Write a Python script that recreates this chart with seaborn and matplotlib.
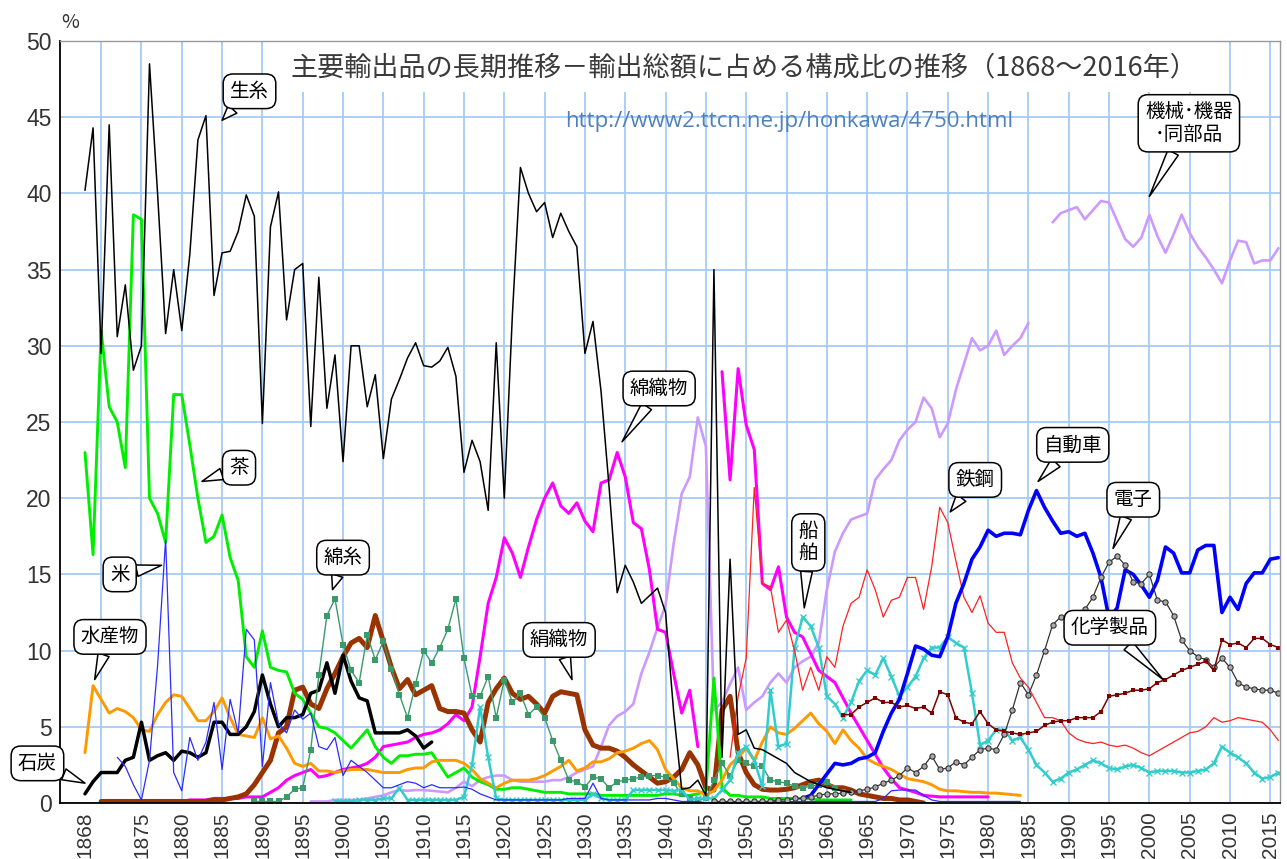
import matplotlib
matplotlib.use("Agg")
import matplotlib.pyplot as plt
from matplotlib.patches import Rectangle
import numpy as np
import seaborn as sns

# ---- data: share of total exports (%) ----
# each series: first year + one value per year (None = no data)
raw_silk_start = 1868
raw_silk = [40.2, 44.3, 29.5, 44.5, 30.6, 34.0, 28.4, 30.0, 48.5, 40.0,
            30.8, 35.0, 31.0, 36.0, 43.5, 45.1, 33.3, 36.1, 36.2, 37.5,
            39.9, 38.5, 24.9, 37.8, 40.1, 31.7, 35.0, 35.4, 24.7, 34.5,
            25.9, 29.4, 22.4, 30.0, 30.0, 26.0, 28.1, 22.6, 26.5, 27.8,
            29.2, 30.2, 28.7, 28.6, 29.0, 29.9, 28.0, 21.7, 23.8, 22.4,
            19.2, 30.2, 20.0, 32.0, 41.7, 40.0, 38.8, 39.4, 37.1, 38.7,
            37.5, 36.5, 29.5, 31.6, 27.0, 20.7, 13.8, 15.6, 14.5, 13.1,
            13.6, 14.1, 12.5, 6.0, 0.9, 1.0, 1.5, 0.5, 35.0, 3.0,
            16.0, 4.5, 4.8, 3.6, 3.5, 3.2, 2.9, 2.6, 2.0, 1.7,
            1.4, 1.2, 1.0, 0.9, 0.8, 0.7]

tea_start = 1868
tea = [23.0, 16.3, 31.0, 26.0, 25.0, 22.0, 38.6, 38.3, 20.0, 19.0,
       17.1, 26.8, 26.8, 23.5, 20.0, 17.1, 17.5, 18.9, 16.1, 14.6,
       9.6, 8.9, 11.3, 8.9, 8.7, 8.6, 7.2, 6.8, 5.9, 5.0,
       4.9, 4.6, 4.1, 3.6, 4.2, 4.8, 3.7, 3.0, 2.6, 3.1,
       3.1, 3.2, 3.2, 3.3, 2.5, 1.7, 2.0, 2.3, 1.7, 1.4,
       1.2, 0.9, 0.9, 1.0, 1.0, 0.9, 0.8, 0.7, 0.7, 0.7,
       0.6, 0.6, 0.6, 0.6, 0.5, 0.5, 0.5, 0.5, 0.5, 0.5,
       0.5, 0.5, 0.6, 0.6, 0.5, 0.5, 0.6, 0.8, 8.2, 1.0,
       0.5, 0.5, 0.4, 0.4, 0.4, 0.3, 0.3, 0.3, 0.3, 0.3,
       0.3, 0.2, 0.2, 0.2, 0.2, 0.2]

rice_start = 1872
rice = [3.0, 2.4, 1.2, 0.2, 2.8, 9.0, 17.3, 2.0, 0.8, 4.3,
        2.8, 4.0, 6.6, 2.2, 6.8, 4.6, 11.4, 10.7, 2.4, 7.9,
        5.2, 4.6, 6.1, 5.5, 5.9, 3.7, 3.5, 4.3, 1.8, 2.8,
        2.4, 2.0, 1.5, 1.0, 1.0, 1.2, 1.4, 1.3, 1.0, 1.2,
        1.0, 1.0, 1.0, 1.05, 0.9, 0.6, 0.4, 0.2, 0.2, 0.2,
        0.2, 0.2, 0.2, 0.2, 0.2, 0.2, 0.3, 0.3, 0.3, 1.3,
        0.3, 0.2, 0.2, 0.2, 0.2, 0.2, 0.2, 0.3, 0.3, 0.2,
        0.1, 0.1, 0.1, 0.0, 0.0, 0.0, 0.0, 0.0, 0.1, 0.1,
        0.1, 0.1, 0.1, 0.1, 0.1, 0.1, 0.1, 0.1, 0.1, 0.1,
        0.1, 0.1, 0.1, 0.1, 0.1, 0.3, 0.8, 0.85, 0.85, 0.85,
        0.5, 0.2, 0.1, 0.1, 0.1, 0.1, 0.1, 0.1, 0.1, 0.1,
        0.1, 0.1, 0.1]

marine_start = 1868
marine = [3.3, 7.7, 6.8, 5.9, 6.2, 6.0, 5.6, 4.8, 4.7, 5.8,
          6.6, 7.1, 7.0, 6.2, 5.4, 5.4, 6.0, 6.9, 5.6, 4.5,
          4.4, 4.3, 5.6, 4.2, 4.4, 3.6, 2.6, 2.4, 2.6, 2.1,
          2.1, 2.0, 2.1, 2.2, 2.2, 2.2, 2.1, 2.0, 2.0, 2.0,
          2.2, 2.3, 2.3, 2.7, 2.8, 2.8, 2.8, 2.6, 2.2, 1.6,
          1.3, 1.0, 1.3, 1.5, 1.5, 1.5, 1.6, 1.8, 2.1, 2.4,
          2.8, 2.1, 2.3, 2.7, 2.7, 2.9, 3.3, 3.4, 3.6, 3.9,
          4.1, 3.5, 2.2, 1.6, 1.0, 0.8, 0.8, 0.5, 0.8, 1.5,
          2.5, 3.0, 3.6, 2.8, 4.0, 5.0, 4.6, 4.5, 4.9, 5.4,
          5.9, 5.2, 4.7, 3.9, 4.8, 4.1, 3.6, 2.9, 2.6, 2.4,
          2.2, 1.9, 1.6, 1.5, 1.4, 1.2, 0.9, 0.8, 0.8, 0.75,
          0.7, 0.7, 0.65, 0.65, 0.6, 0.55, 0.5]

coal_start = 1868
coal = [0.6, 1.4, 2.0, 2.0, 2.0, 2.8, 3.0, 5.3, 2.8, 3.1,
        3.3, 2.8, 3.4, 3.3, 3.0, 3.3, 5.3, 5.3, 4.5, 4.5,
        5.0, 6.0, 8.4, 6.5, 5.0, 5.6, 5.6, 5.8, 7.2, 7.4,
        9.2, 7.2, 9.7, 8.0, 6.9, 6.7, 4.6, 4.6, 4.6, 4.6,
        4.8, 4.4, 3.6, 4.0]

cotton_yarn_start = 1889
cotton_yarn = [0.1, 0.1, 0.1, 0.1, 0.4, 0.9, 1.0, 3.5, 8.4, 12.3,
               13.4, 10.4, 8.7, 7.9, 11.0, 9.4, 10.6, 8.8, 7.1, 5.6,
               7.8, 10.0, 9.2, 10.2, 11.4, 13.4, 9.5, 7.0, 7.0, 8.3,
               5.6, 8.1, 6.6, 7.2, 5.8, 6.3, 5.6, 4.1, 2.8, 1.5,
               1.4, 1.05, 1.7, 1.6, 1.0, 1.4, 1.5, 1.6, 1.7, 1.8,
               1.8, 1.7, 1.3, 0.6, 0.3, 0.2, 0.3, 1.5, 2.6, 1.8,
               2.8, 2.6, 2.4, 2.4, 1.5, 1.4, 1.3, 1.1, 1.0, 1.1,
               1.2, 1.4, 1.0, 0.7]

silk_fabric_start = 1870
silk_fabric = [0.1, 0.1, 0.1, 0.1, 0.1, 0.1, 0.1, 0.1, 0.1, 0.1,
               0.1, 0.1, 0.1, 0.1, 0.2, 0.2, 0.3, 0.4, 0.6, 1.2,
               2.0, 2.8, 4.6, 5.0, 7.4, 7.6, 6.5, 6.2, 7.5, 8.5,
               9.6, 10.5, 10.8, 10.2, 12.3, 10.6, 8.9, 7.5, 8.1, 7.1,
               7.4, 7.7, 6.2, 6.0, 6.0, 5.9, 4.8, 4.0, 6.6, 7.5,
               8.2, 7.2, 6.8, 7.0, 6.5, 5.9, 7.0, 7.3, 7.2, 7.1,
               4.8, 3.8, 3.6, 3.6, 3.4, 3.0, 2.5, 2.1, 1.7, 1.3,
               1.4, 1.7, 2.2, 3.3, 2.5, 1.0, 0.85, 6.1, 7.0, 3.3,
               2.0, 1.2, 0.9, 0.85, 0.85, 0.9, 1.0, 1.2, 1.4, 1.5,
               1.2, 1.0, 1.0, 0.85, 0.6, 0.5, 0.4, 0.3, 0.3, 0.2,
               0.2, 0.1, 0.0]

cotton_fabric_start = 1874
cotton_fabric = [0.1, 0.1, 0.1, 0.1, 0.1, 0.1, 0.1, 0.2, 0.2, 0.2,
                 0.3, 0.3, 0.3, 0.3, 0.4, 0.4, 0.4, 0.7, 1.0, 1.5,
                 1.8, 2.0, 2.2, 1.7, 1.8, 2.0, 2.2, 2.3, 2.4, 2.6,
                 3.0, 3.7, 3.8, 3.9, 4.0, 4.3, 4.5, 4.6, 4.8, 5.2,
                 5.8, 5.4, 6.3, 9.6, 13.1, 14.8, 17.4, 16.4, 14.8, 16.8,
                 18.6, 20.0, 21.0, 19.5, 19.0, 19.7, 18.5, 17.8, 21.0, 21.2,
                 23.0, 21.4, 18.4, 18.0, 15.3, 11.4, 11.2, 8.5, 5.9, 7.4,
                 3.7, None, None, 28.3, 21.2, 28.5, 24.8, 23.2, 14.4, 14.0,
                 15.5, 12.2, 11.2, 10.9, 9.8, 8.7, 8.3, 7.9, 6.9, 5.9,
                 5.0, 4.1, 3.2, 2.3, 1.6, 1.0, 0.85, 0.7, 0.5, 0.45,
                 0.4, 0.4, 0.4, 0.4, 0.4, 0.4, 0.4]

machinery_start = 1896
machinery = [0.1, 0.1, 0.1, 0.2, 0.2, 0.2, 0.2, 0.3, 0.4, 0.5,
             0.7, 0.85, 0.8, 0.85, 0.85, 0.8, 0.75, 0.7, 1.0, 1.4,
             1.1, 1.5, 1.7, 1.8, 1.8, 1.5, 1.4, 1.4, 1.4, 1.4,
             1.5, 1.5, 1.7, 2.0, 2.2, 2.4, 3.7, 5.1, 5.7, 6.0,
             6.5, 8.5, 9.9, 11.5, 13.0, 17.0, 20.3, 21.4, 25.3, 23.4,
             6.1, 6.6, 7.8, 8.9, 6.1, 6.6, 7.0, 7.9, 8.5, 7.9,
             8.9, 9.3, 9.6, 10.5, 14.0, 16.5, 17.7, 18.6, 18.8, 19.0,
             21.2, 21.9, 22.5, 23.8, 24.5, 25.0, 26.6, 25.9, 24.0, 24.9,
             27.1, 28.8, 30.5, 29.7, 30.0, 31.0, 29.4, 30.0, 30.5, 31.5,
             None, None, 38.1, 38.7, 38.9, 39.1, 38.3, 38.9, 39.5, 39.4,
             38.2, 37.0, 36.5, 37.1, 38.6, 37.2, 36.1, 37.3, 38.6, 37.4,
             36.5, 35.8, 35.0, 34.1, 35.6, 36.9, 36.8, 35.4, 35.6, 35.6,
             36.4]

ships_start = 1899
ships = [0.1, 0.1, 0.1, 0.2, 0.2, 0.2, 0.3, 0.3, 1.0, 0.2,
         0.2, 0.2, 0.2, 0.2, 0.2, 0.2, 0.4, 2.5, 6.3, 3.0,
         0.3, 0.2, 0.2, 0.2, 0.2, 0.2, 0.2, 0.2, 0.2, 0.2,
         0.2, 0.2, 0.6, 0.3, 0.2, 0.2, 0.2, 0.85, 0.85, 0.85,
         0.85, 0.85, 0.8, 0.85, 0.2, 0.3, 0.3, 0.3, 0.85, 1.5,
         3.3, 3.7, 2.8, 1.1, 7.4, 3.7, 3.9, 10.2, 12.2, 11.6,
         10.2, 7.0, 6.5, 5.6, 6.6, 8.0, 8.7, 8.4, 9.5, 8.3,
         7.0, 7.6, 8.3, 9.5, 10.2, 10.2, 10.9, 10.5, 10.2, 7.2,
         3.8, 4.1, 4.8, 4.8, 4.1, 4.3, 3.5, 2.5, 2.0, 1.4,
         1.6, 2.0, 2.2, 2.5, 2.8, 2.6, 2.3, 2.2, 2.4, 2.5,
         2.3, 2.0, 2.1, 2.1, 2.1, 2.0, 2.0, 2.1, 2.2, 2.6,
         3.7, 3.3, 3.0, 2.6, 2.0, 1.6, 1.7, 2.0]

steel_start = 1948
steel = [3.0, 7.0, 9.5, 20.7, 14.4, 14.2, 11.2, 12.0, 10.0, 7.4,
         8.9, 7.4, 9.6, 8.9, 11.6, 13.1, 13.5, 15.3, 14.0, 12.2,
         13.3, 13.5, 14.8, 14.8, 12.7, 15.5, 19.4, 18.4, 15.9, 13.5,
         12.5, 13.6, 11.8, 11.2, 11.2, 9.2, 8.2, 7.6, 6.6, 5.6,
         5.6, 5.4, 4.6, 4.2, 4.0, 3.9, 4.0, 3.8, 3.7, 3.8,
         3.6, 3.3, 3.1, 3.4, 3.7, 4.0, 4.3, 4.6, 4.7, 5.0,
         5.6, 5.3, 5.4, 5.6, 5.5, 5.4, 5.3, 4.8, 4.1]

auto_start = 1957
auto = [0.3, 0.5, 1.2, 1.9, 2.6, 2.5, 2.6, 2.9, 3.0, 3.3,
        4.7, 5.9, 6.8, 8.5, 10.3, 10.1, 9.7, 9.6, 10.9, 13.1,
        14.4, 16.0, 16.8, 17.9, 17.5, 17.7, 17.7, 17.6, 19.2, 20.5,
        19.4, 18.5, 17.7, 17.8, 17.5, 17.7, 16.4, 14.8, 12.1, 12.8,
        15.3, 15.0, 14.3, 13.5, 14.6, 16.8, 16.4, 15.1, 15.1, 16.6,
        16.9, 16.9, 12.5, 13.5, 12.7, 14.4, 15.1, 15.1, 16.0, 16.1]

electronics_start = 1946
electronics = [0.1, 0.1, 0.1, 0.1, 0.1, 0.1, 0.1, 0.1, 0.2, 0.2,
               0.3, 0.3, 0.4, 0.5, 0.6, 0.6, 0.65, 0.7, 0.8, 0.9,
               1.05, 1.3, 1.5, 1.8, 2.3, 2.0, 2.4, 3.1, 2.2, 2.3,
               2.7, 2.5, 3.0, 3.5, 3.6, 3.5, 4.5, 6.1, 7.9, 7.1,
               8.4, 10.0, 11.7, 12.2, 12.0, 11.9, 12.7, 13.5, 14.8, 15.8,
               16.2, 15.6, 14.5, 14.4, 15.0, 13.3, 13.2, 12.3, 10.7, 10.0,
               9.6, 9.4, 8.9, 9.5, 8.9, 7.9, 7.6, 7.5, 7.4, 7.4,
               7.2]

chemicals_start = 1962
chemicals = [5.8, 5.8, 6.3, 6.6, 6.9, 6.6, 6.6, 6.3, 6.4, 6.2,
             6.3, 5.9, 7.3, 7.1, 5.6, 5.3, 5.2, 6.0, 5.2, 4.8,
             4.7, 4.6, 4.5, 4.6, 4.7, 5.1, 5.3, 5.4, 5.4, 5.6,
             5.6, 5.6, 6.0, 7.0, 7.1, 7.2, 7.4, 7.4, 7.5, 7.9,
             8.1, 8.4, 8.7, 8.9, 9.1, 9.3, 8.7, 10.7, 10.4, 10.5,
             10.2, 10.8, 10.8, 10.4, 10.2]

x_labels = [1868] + list(range(1875, 2016, 5))
x_grid = list(range(1870, 2016, 5))
title = "主要輸出品の長期推移－輸出総額に占める構成比の推移（1868～2016年）"
url = "http://www2.ttcn.ne.jp/honkawa/4750.html"

# ---- style ----
sns.set_style("white")
plt.rcParams['font.family'] = ['Noto Sans CJK JP', 'DejaVu Sans']

fig = plt.figure(figsize=(12.87, 8.59), dpi=100)
ax = fig.add_axes([60 / 1287, 56 / 859, 1220 / 1287, 762 / 859])


def draw(start, values, **kw):
    # split on missing years so gaps stay gaps
    years = np.arange(start, start + len(values))
    seg_x, seg_y = [], []
    for yr, v in zip(years, values):
        if v is None:
            if seg_x:
                sns.lineplot(x=seg_x, y=seg_y, ax=ax, estimator=None, sort=False, **kw)
            seg_x, seg_y = [], []
        else:
            seg_x.append(yr)
            seg_y.append(v)
    if seg_x:
        sns.lineplot(x=seg_x, y=seg_y, ax=ax, estimator=None, sort=False, **kw)


draw(machinery_start, machinery, color='#cc99ff', linewidth=1.9)
draw(cotton_fabric_start, cotton_fabric, color='#ff00ff', linewidth=2.2)
draw(silk_fabric_start, silk_fabric, color='#993300', linewidth=3.6)
draw(tea_start, tea, color='#00ee00', linewidth=2.1)
draw(marine_start, marine, color='#ff9900', linewidth=2.1)
draw(coal_start, coal, color='black', linewidth=2.5)
draw(cotton_yarn_start, cotton_yarn, color='#3a9a6a', linewidth=1.0,
     marker='s', markersize=4.5, markeredgewidth=0)
draw(ships_start, ships, color='#33cccc', linewidth=1.8,
     marker='x', markersize=4.5, markeredgewidth=1.0,
     markeredgecolor='#33cccc')
draw(rice_start, rice, color='#2b2bff', linewidth=0.9)
draw(steel_start, steel, color='#ff2020', linewidth=0.9)
draw(auto_start, auto, color='#0000ff', linewidth=2.6)
draw(electronics_start, electronics, color='#333333', linewidth=0.9,
     marker='o', markersize=3.8, markerfacecolor='#aaaaaa',
     markeredgecolor='#333333', markeredgewidth=0.8)
draw(chemicals_start, chemicals, color='#800000', linewidth=1.1,
     marker='s', markersize=2.6, markeredgewidth=0)
draw(raw_silk_start, raw_silk, color='black', linewidth=1.1)

# ---- axes ----
ax.set_xlim(1864.9, 2016.2)
ax.set_ylim(0, 50)
ax.set_xlabel('')
ax.set_ylabel('')
ax.set_xticks(x_labels)
ax.set_xticklabels([str(v) for v in x_labels], rotation=90,
                   fontsize=15, color='#333333', fontfamily='Liberation Sans')
ax.set_yticks(list(range(0, 51, 5)))
ax.set_yticklabels([str(v) for v in range(0, 51, 5)],
                   fontsize=16.5, color='#333333', fontfamily='Liberation Sans')
ax.tick_params(axis='both', which='both', length=0, pad=6)
ax.grid(False)
ax.grid(True, axis='y', which='major', color='#a6cbf7', linewidth=1.3, zorder=0)

# title panel sits over the grid, so vertical lines stop below it
panel_x0, panel_x1, panel_y0 = 1893.4, 2009.1, 46.65
for gx in x_grid:
    top = panel_y0 if panel_x0 < gx < panel_x1 else 50
    ax.vlines(gx, 0, top, color='#a6cbf7', linewidth=1.3, zorder=0.5)
ax.set_axisbelow(True)
for side in ['left', 'bottom']:
    ax.spines[side].set_color('black')
    ax.spines[side].set_linewidth(1.3)
for side in ['top', 'right']:
    ax.spines[side].set_color('#999999')
    ax.spines[side].set_linewidth(1.0)

ax.add_patch(Rectangle((panel_x0, panel_y0), panel_x1 - panel_x0, 50 - panel_y0,
                       facecolor='white', edgecolor='none', zorder=1.9))
ax.text(1949.7, 48.25, title, ha='center', va='center', fontsize=19.5,
        color='#3a3a3a', zorder=3)
ax.text(1927.6, 44.7, url, ha='left', va='center', fontsize=16,
        color='#4f81bd', fontfamily='Open Sans', zorder=3)
fig.text(70 / 1287, 1 - 22 / 859, '%', ha='center', va='center',
         fontsize=14, color='#333333')


def bubble(text, box, tip, size=14):
    ax.annotate(text, xy=tip, xytext=box, ha='center', va='center',
                fontsize=size, color='black', zorder=10, annotation_clip=False,
                linespacing=1.1,
                bbox=dict(boxstyle='round,pad=0.35,rounding_size=0.5',
                          fc='white', ec='black', lw=1.1),
                arrowprops=dict(arrowstyle='wedge,tail_width=0.6,shrink_factor=0.5',
                                fc='white', ec='black', lw=1.1,
                                shrinkA=0, shrinkB=0))


bubble('生糸', (1888.4, 46.7), (1885.0, 44.8))
bubble('茶', (1887.1, 22.0), (1882.5, 21.1))
bubble('米', (1872.3, 15.0), (1877.5, 15.6))
bubble('水産物', (1871.1, 10.9), (1869.2, 8.1))
bubble('石炭', (1862.1, 2.6), (1868.0, 1.3))
bubble('綿糸', (1900.0, 16.1), (1898.7, 14.0))
bubble('絹織物', (1926.8, 10.7), (1928.4, 8.1))
bubble('綿織物', (1939.2, 27.2), (1934.6, 23.7))
bubble('船\n舶', (1957.7, 17.1), (1957.2, 12.8))
bubble('鉄鋼', (1978.4, 21.2), (1975.3, 19.1))
bubble('自動車', (1990.5, 23.5), (1986.2, 21.1))
bubble('電子', (1998.0, 19.9), (1995.5, 16.7))
bubble('化学製品', (1995.1, 11.5), (2001.7, 8.1))
bubble('機械･機器\n･同部品', (2004.9, 44.6), (2000.0, 39.8))

fig.savefig('out.png', dpi=100)
